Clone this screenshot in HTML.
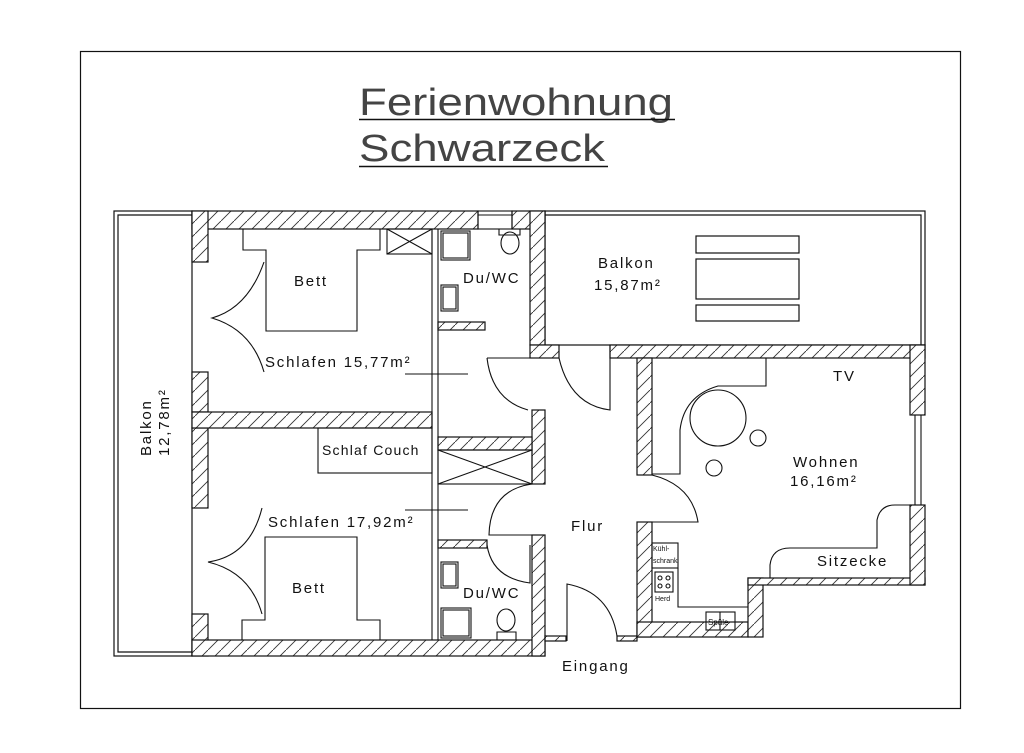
<!DOCTYPE html>
<html><head><meta charset="utf-8"><style>
html,body{margin:0;padding:0;background:#fff}
svg{display:block}
text{font-family:"Liberation Sans",sans-serif;fill:#111}
</style></head><body>
<svg width="1024" height="753" viewBox="0 0 1024 753" xmlns="http://www.w3.org/2000/svg">
<defs>
<pattern id="h" patternUnits="userSpaceOnUse" width="13" height="13">
<rect width="13" height="13" fill="#fff"/>
<path d="M-2,15 L15,-2" stroke="#333" stroke-width="0.9"/>
</pattern>
</defs>
<rect x="80.5" y="51.5" width="880" height="657" fill="none" stroke="#111" stroke-width="1.2"/>
<!-- title -->
<text x="359" y="115" font-size="38" textLength="314" lengthAdjust="spacingAndGlyphs" style="fill:#444">Ferienwohnung</text>
<line x1="359" y1="119.5" x2="675" y2="119.5" stroke="#111" stroke-width="1.5"/>
<text x="359" y="161" font-size="38" textLength="246" lengthAdjust="spacingAndGlyphs" style="fill:#444">Schwarzeck</text>
<line x1="359" y1="166.5" x2="608" y2="166.5" stroke="#111" stroke-width="1.5"/>

<g stroke="#111" stroke-width="1.2" fill="none">
<rect x="114" y="211" width="78" height="445"/>
<polyline points="192,215 118,215 118,652 192,652"/>
<rect x="545" y="211" width="380" height="134"/>
<polyline points="545,215 921,215 921,345"/>
<rect x="696" y="236" width="103" height="17"/>
<rect x="696" y="259" width="103" height="40"/>
<rect x="696" y="305" width="103" height="16"/>
</g>

<g fill="url(#h)" stroke="#111" stroke-width="1.2">
<rect x="192" y="211" width="286" height="18"/>
<rect x="512" y="211" width="33" height="18"/>
<rect x="192" y="211" width="16" height="51"/>
<rect x="192" y="372" width="16" height="40"/>
<rect x="192" y="428" width="16" height="80"/>
<rect x="192" y="614" width="16" height="42"/>
<rect x="192" y="640" width="353" height="16"/>
<rect x="192" y="412" width="240" height="16"/>
<rect x="530" y="211" width="15" height="134"/>
<rect x="530" y="345" width="29" height="13"/>
<rect x="438" y="322" width="47" height="8"/>
<rect x="532" y="410" width="13" height="74"/>
<rect x="438" y="437" width="94" height="13"/>
<rect x="438" y="540" width="49" height="8"/>
<rect x="532" y="535" width="13" height="121"/>
<rect x="545" y="636" width="21" height="5"/>
<rect x="617" y="636" width="20" height="5"/>
<rect x="610" y="345" width="315" height="13"/>
<rect x="637" y="358" width="15" height="117"/>
<rect x="637" y="522" width="15" height="115"/>
<rect x="637" y="622" width="111" height="15"/>
<rect x="748" y="578" width="15" height="59"/>
<rect x="748" y="578" width="177" height="7"/>
<rect x="910" y="345" width="15" height="70"/>
<rect x="910" y="505" width="15" height="80"/>
</g>

<g stroke="#111" stroke-width="1.1" fill="none">
<rect x="478" y="211" width="34" height="18"/>
<line x1="478" y1="215" x2="512" y2="215"/>
<line x1="432" y1="229" x2="432" y2="640"/>
<line x1="438" y1="229" x2="438" y2="640"/>
<line x1="915" y1="415" x2="915" y2="505"/>
<line x1="921" y1="415" x2="921" y2="505"/>
<polyline points="243,229 243,250 266,250 266,331 357,331 357,250 380,250 380,229"/>
<rect x="387" y="229" width="45" height="25"/>
<path d="M387,229 L432,254 M432,229 L387,254"/>
<polyline points="242,640 242,620 265,620 265,537 357,537 357,620 380,620 380,640"/>
<rect x="318" y="428" width="114" height="45"/>
<rect x="438" y="450" width="94" height="34"/>
<path d="M438,450 L532,484 M532,450 L438,484"/>
<rect x="441" y="231" width="29" height="29"/><rect x="443" y="233" width="25" height="25"/>
<rect x="441" y="285" width="17" height="26"/><rect x="443" y="287" width="13" height="22"/>
<path d="M499,229 v6 h21 v-6"/><ellipse cx="510" cy="243" rx="9" ry="11"/>
<rect x="441" y="562" width="17" height="26"/><rect x="443" y="564" width="13" height="22"/>
<rect x="441" y="608" width="30" height="30"/><rect x="443" y="610" width="26" height="26"/>
<ellipse cx="506" cy="620" rx="9" ry="11"/><path d="M497,640 v-8 h19 v8"/>
<line x1="405" y1="374" x2="468" y2="374"/>
<line x1="405" y1="510" x2="468" y2="510"/>
<path d="M264,262 Q248,308 212,318 Q252,330 264,372"/>
<path d="M262,508 Q250,556 208,562 Q250,572 262,614"/>
<path d="M487,358 H559"/><path d="M487,358 Q492,400 528,410"/>
<path d="M559,358 Q570,405 610,410 V345"/>
<path d="M532,484 Q490,490 489,535 H545"/>
<path d="M487,545 Q492,578 530,583 V545"/>
<path d="M567,641 V584 Q610,592 617,636"/>
<path d="M652,475 Q692,485 698,522 H637"/>
<path d="M652,358 H766 V386 H718 Q684,396 680,430 V474 H652"/>
<circle cx="718" cy="418" r="28"/>
<circle cx="758" cy="438" r="8"/>
<circle cx="714" cy="468" r="8"/>
<path d="M770,578 V565 Q772,548 790,548 H877 V520 Q880,505 895,505 H910"/>
<rect x="652" y="543" width="26" height="25"/>
<polyline points="678,568 678,607 748,607"/>
<rect x="655" y="572" width="18" height="20"/>
<circle cx="660" cy="578" r="2"/><circle cx="668" cy="578" r="2"/>
<circle cx="660" cy="586" r="2"/><circle cx="668" cy="586" r="2"/>
<rect x="706" y="612" width="29" height="18"/><line x1="720" y1="612" x2="720" y2="630"/>
</g>

<g font-size="15" letter-spacing="1.8">
<text x="294" y="286">Bett</text>
<text x="265" y="367">Schlafen 15,77m²</text>
<text x="322" y="455" font-size="14" letter-spacing="1.2">Schlaf Couch</text>
<text x="268" y="527">Schlafen 17,92m²</text>
<text x="292" y="593">Bett</text>
<text x="463" y="283">Du/WC</text>
<text x="463" y="598">Du/WC</text>
<text x="598" y="268">Balkon</text>
<text x="594" y="290">15,87m²</text>
<text x="833" y="381">TV</text>
<text x="793" y="467">Wohnen</text>
<text x="790" y="486">16,16m²</text>
<text x="817" y="566">Sitzecke</text>
<text x="571" y="531">Flur</text>
<text x="562" y="671">Eingang</text>
<text transform="translate(151,456) rotate(-90)">Balkon</text>
<text transform="translate(169,456) rotate(-90)">12,78m²</text>
<g letter-spacing="0">
<text x="653" y="551" font-size="7">Kühl-</text>
<text x="653" y="563" font-size="7">schrank</text>
<text x="655" y="601" font-size="7">Herd</text>
<text x="708" y="625" font-size="8">Spüle</text>
</g>
</g>
</svg>
</body></html>
